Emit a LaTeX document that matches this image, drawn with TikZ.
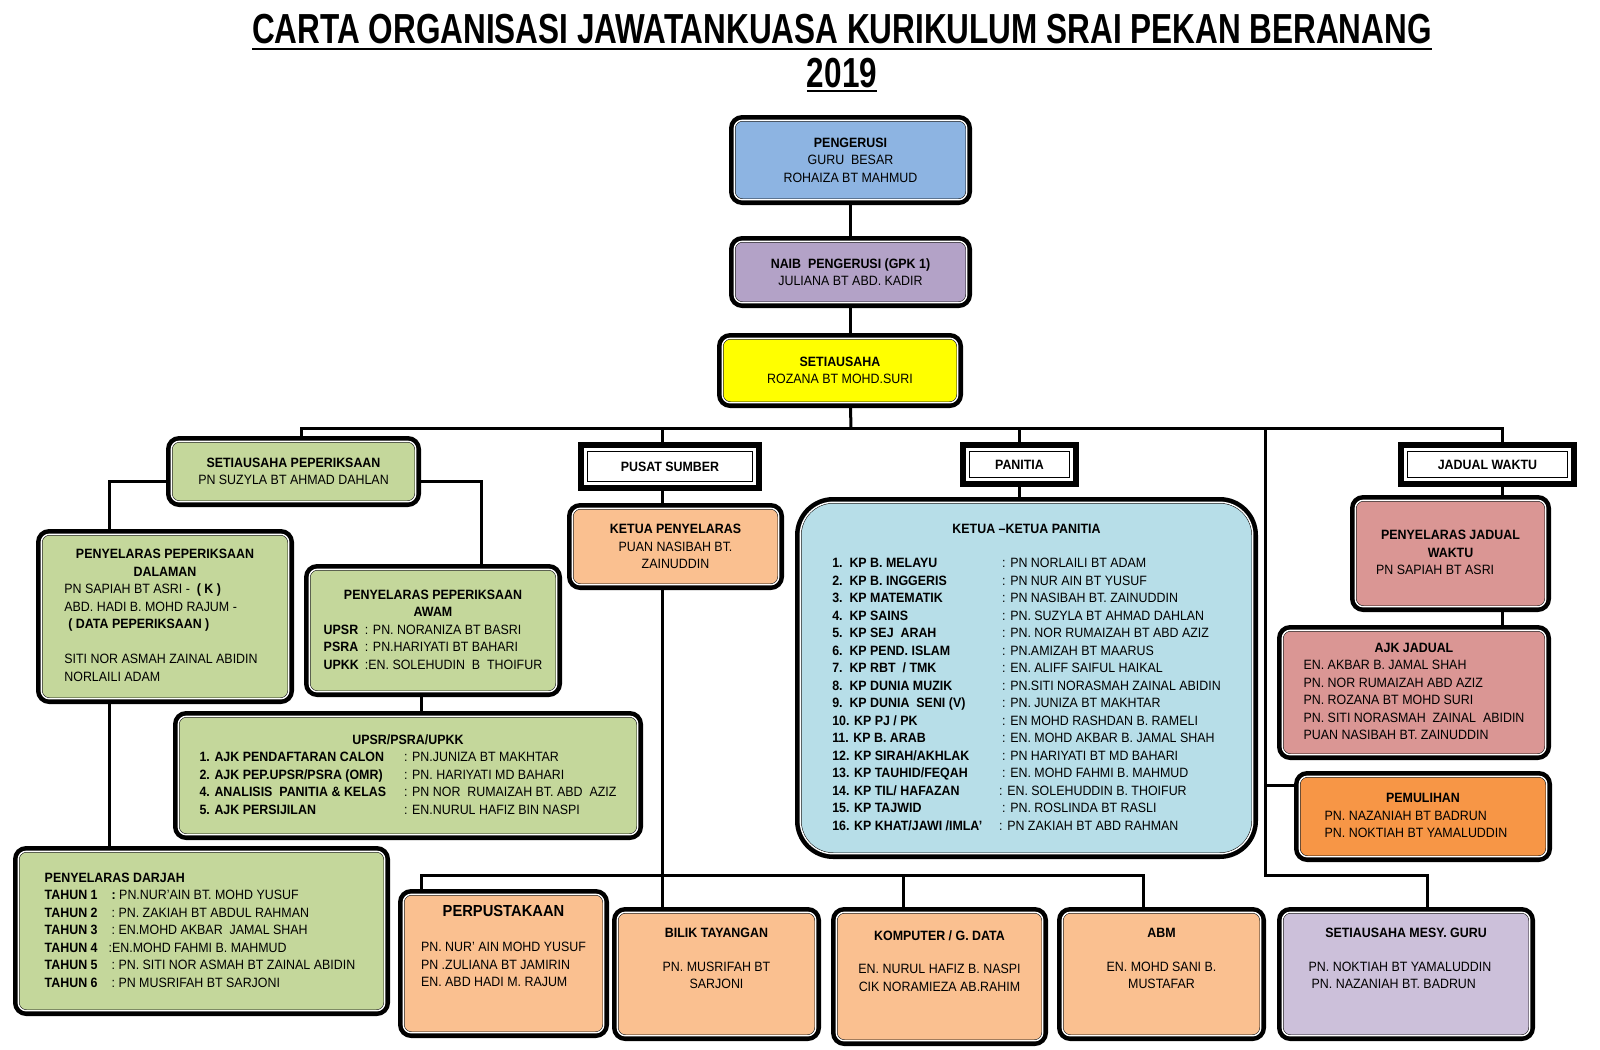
\documentclass[tikz,border=0pt]{standalone}
\usepackage{fontspec}
\setmainfont{Liberation Sans}[FakeStretch=0.92]
\newfontfamily\titlefont{Liberation Sans}[FakeStretch=0.75]
\usetikzlibrary{backgrounds,calc}
\definecolor{pengblue}{HTML}{8DB4E2}
\definecolor{naibpurple}{HTML}{B3A2C7}
\definecolor{setiayellow}{HTML}{FFFF00}
\definecolor{pepgreen}{HTML}{C4D79B}
\definecolor{sumberpeach}{HTML}{FAC090}
\definecolor{panitiablue}{HTML}{B7DEE8}
\definecolor{jadualrose}{HTML}{DA9694}
\definecolor{pemorange}{HTML}{F79646}
\definecolor{mesylilac}{HTML}{CCC0DA}
\newcommand{\boxfont}{\fontsize{13.5}{17.5}\selectfont}

\begin{document}
\begin{tikzpicture}[x=1pt, y=-1pt,
  card/.style={draw=black, line width=4.4pt, rounded corners=11pt, inner sep=0pt, align=center, font=\boxfont},
  head/.style={draw=black, line width=5.5pt, fill=white, inner sep=0pt, font=\boxfont\bfseries},
  rim/.style={line width=0.5pt, double=white, double distance=1.4pt},
  headrim/.style={line width=1.3pt, double=white, double distance=2.4pt},
  link/.style={line width=3pt}]
  \useasboundingbox (0,0) rectangle (1600,1049);

  % title
  \node[font=\titlefont\bfseries\fontsize{42}{46}\selectfont, inner sep=0pt, anchor=base] (title) at (842,44) {CARTA ORGANISASI JAWATANKUASA KURIKULUM SRAI PEKAN BERANANG};
  \node[font=\titlefont\bfseries\fontsize{42}{46}\selectfont, inner sep=0pt, anchor=base] (year) at (842,87) {2019};
  \draw[line width=2.5pt] ([yshift=-5pt]title.base west) -- ([yshift=-5pt]title.base east);
  \draw[line width=2.5pt] ([yshift=-4pt]year.base west) -- ([yshift=-4pt]year.base east);

  % top of the chart
  \node[card, fill=pengblue, minimum width=238.6pt, minimum height=85.6pt] (peng) at (850.5,160)
    {\textbf{PENGERUSI}\\GURU\ \ BESAR\\ROHAIZA BT MAHMUD};
  \node[card, fill=naibpurple, minimum width=238.6pt, minimum height=67.6pt] (naib) at (850.5,272)
    {\textbf{NAIB\ \ PENGERUSI (GPK 1)}\\JULIANA BT ABD. KADIR};
  \node[card, fill=setiayellow, minimum width=241.6pt, minimum height=70.6pt] (setia) at (840,370.5)
    {\textbf{SETIAUSAHA}\\ROZANA BT MOHD.SURI};

  % peperiksaan
  \node[card, fill=pepgreen, minimum width=250.6pt, minimum height=66.6pt] (sp) at (293.5,471.5)
    {\textbf{SETIAUSAHA PEPERIKSAAN}\\PN SUZYLA BT AHMAD DAHLAN};
  \node[card, fill=pepgreen, minimum width=253.6pt, minimum height=170.6pt] (ppd) at (165,616.5)
    {\begin{tabular}{@{}l@{}}
      \multicolumn{1}{@{}c@{}}{\textbf{PENYELARAS PEPERIKSAAN}}\\
      \multicolumn{1}{@{}c@{}}{\textbf{DALAMAN}}\\
      \hspace{-8pt}PN SAPIAH BT ASRI -\ \ \textbf{( K )}\\
      \hspace{-8pt}ABD. HADI B. MOHD RAJUM -\\
      \hspace{-4pt}\textbf{( DATA PEPERIKSAAN )}\\
      \\
      \hspace{-8pt}SITI NOR ASMAH ZAINAL ABIDIN\\
      \hspace{-8pt}NORLAILI ADAM
    \end{tabular}};
  \node[card, fill=pepgreen, minimum width=253.6pt, minimum height=128.6pt] (ppa) at (433,630.5)
    {\begin{tabular}{@{}l@{\hspace{6pt}}l@{}}
      \multicolumn{2}{@{}c@{}}{\textbf{PENYELARAS PEPERIKSAAN}}\\
      \multicolumn{2}{@{}c@{}}{\textbf{AWAM}}\\
      \textbf{UPSR} & : PN. NORANIZA BT BASRI\\
      \textbf{PSRA} & : PN.HARIYATI BT BAHARI\\
      \textbf{UPKK} & :EN. SOLEHUDIN\ \ B\ \ THOIFUR
    \end{tabular}};
  \node[card, fill=pepgreen, minimum width=465.6pt, minimum height=124.6pt] (upsr) at (408,775.5)
    {\begin{tabular}{@{}l@{\hspace{18pt}}l@{}}
      \multicolumn{2}{@{}c@{}}{\textbf{UPSR/PSRA/UPKK}}\\
      \textbf{1. AJK PENDAFTARAN CALON} & : PN.JUNIZA BT MAKHTAR\\
      \textbf{2. AJK PEP.UPSR/PSRA (OMR)} & : PN. HARIYATI MD BAHARI\\
      \textbf{4. ANALISIS\ \ PANITIA \& KELAS} & : PN NOR\ \ RUMAIZAH BT. ABD\ \ AZIZ\\
      \textbf{5. AJK PERSIJILAN} & : EN.NURUL HAFIZ BIN NASPI
    \end{tabular}};
  \node[card, fill=pepgreen, minimum width=372.6pt, minimum height=165.6pt] (pd) at (201.5,931)
    {\begin{tabular}{@{}l@{\hspace{14pt}}l@{}}
      \multicolumn{2}{@{}l@{}}{\hspace{-3pt}\textbf{PENYELARAS DARJAH}}\\
      \hspace{-3pt}\textbf{TAHUN 1} & \textbf{:}\ PN.NUR'AIN BT. MOHD YUSUF\\
      \hspace{-3pt}\textbf{TAHUN 2} & :\ PN. ZAKIAH BT ABDUL RAHMAN\\
      \hspace{-3pt}\textbf{TAHUN 3} & :\ EN.MOHD AKBAR\ \ JAMAL SHAH\\
      \hspace{-3pt}\textbf{TAHUN 4} & \hspace{-3pt}:EN.MOHD FAHMI B. MAHMUD\\
      \hspace{-3pt}\textbf{TAHUN 5} & :\ PN. SITI NOR ASMAH BT ZAINAL ABIDIN\\
      \hspace{-3pt}\textbf{TAHUN 6} & :\ PN MUSRIFAH BT SARJONI
    \end{tabular}};

  % pusat sumber
  \node[head, minimum width=178.5pt, minimum height=43.5pt] (ps) at (670,466.5) {PUSAT SUMBER};
  \node[card, fill=sumberpeach, minimum width=212.6pt, minimum height=82.6pt] (kp) at (675.5,546.5)
    {\textbf{KETUA PENYELARAS}\\PUAN NASIBAH BT.\\ZAINUDDIN};
  \node[card, fill=sumberpeach, minimum width=206.6pt, minimum height=144.6pt] (perp) at (503.5,963.5)
    {\begin{tabular}{@{}l@{}}
      \multicolumn{1}{@{}c@{}}{\fontsize{16}{19}\selectfont\textbf{PERPUSTAKAAN}}\\[18pt]
      PN. NUR' AIN MOHD YUSUF\\
      PN .ZULIANA BT JAMIRIN\\
      EN. ABD HADI M. RAJUM\\[31pt]
    \end{tabular}};
  \node[card, fill=sumberpeach, minimum width=204.6pt, minimum height=129.6pt] (bilik) at (716.5,974)
    {\begin{tabular}{@{}c@{}}
      \textbf{BILIK TAYANGAN}\\[16pt]
      PN. MUSRIFAH BT\\
      SARJONI\\[29pt]
    \end{tabular}};
  \node[card, fill=sumberpeach, minimum width=212.6pt, minimum height=134.6pt] (komp) at (939.5,976.5)
    {\begin{tabular}{@{}c@{}}
      \textbf{KOMPUTER / G. DATA}\\[16pt]
      EN. NURUL HAFIZ B. NASPI\\
      CIK NORAMIEZA AB.RAHIM\\[29pt]
    \end{tabular}};
  \node[card, fill=sumberpeach, minimum width=204.6pt, minimum height=129.6pt] (abm) at (1161.5,974)
    {\begin{tabular}{@{}c@{}}
      \textbf{ABM}\\[16pt]
      EN. MOHD SANI B.\\
      MUSTAFAR\\[29pt]
    \end{tabular}};

  % panitia
  \node[head, minimum width=113.5pt, minimum height=39.5pt] (pan) at (1019.5,464.5) {PANITIA};
  \node[card, fill=panitiablue, rounded corners=36pt, minimum width=458.6pt, minimum height=357.6pt] (kpan) at (1026.5,678)
    {\begin{tabular}{@{}l@{\hspace{20pt}}l@{}}
      \multicolumn{2}{@{}c@{}}{\textbf{KETUA --KETUA PANITIA}}\\[17pt]
      \textbf{1.\ \ KP B. MELAYU} & : PN NORLAILI BT ADAM\\
      \textbf{2.\ \ KP B. INGGERIS} & : PN NUR AIN BT YUSUF\\
      \textbf{3.\ \ KP MATEMATIK} & : PN NASIBAH BT. ZAINUDDIN\\
      \textbf{4.\ \ KP SAINS} & : PN. SUZYLA BT AHMAD DAHLAN\\
      \textbf{5.\ \ KP SEJ\ \ ARAH} & : PN. NOR RUMAIZAH BT ABD AZIZ\\
      \textbf{6.\ \ KP PEND. ISLAM} & : PN.AMIZAH BT MAARUS\\
      \textbf{7.\ \ KP RBT\ \ / TMK} & : EN. ALIFF SAIFUL HAIKAL\\
      \textbf{8.\ \ KP DUNIA MUZIK} & : PN.SITI NORASMAH ZAINAL ABIDIN\\
      \textbf{9.\ \ KP DUNIA\ \ SENI (V)} & : PN. JUNIZA BT MAKHTAR\\
      \textbf{10. KP PJ / PK} & : EN MOHD RASHDAN B. RAMELI\\
      \textbf{11. KP B. ARAB} & : EN. MOHD AKBAR B. JAMAL SHAH\\
      \textbf{12. KP SIRAH/AKHLAK} & : PN HARIYATI BT MD BAHARI\\
      \textbf{13. KP TAUHID/FEQAH} & : EN. MOHD FAHMI B. MAHMUD\\
      \textbf{14. KP TIL/ HAFAZAN} & \hspace{-3pt}: EN. SOLEHUDDIN B. THOIFUR\\
      \textbf{15. KP TAJWID} & : PN. ROSLINDA BT RASLI\\
      \textbf{16. KP KHAT/JAWI /IMLA'} & \hspace{-3pt}: PN ZAKIAH BT ABD RAHMAN
    \end{tabular}};

  % jadual waktu
  \node[head, minimum width=173.5pt, minimum height=39.5pt] (jw) at (1487.5,464.5) {JADUAL WAKTU};
  \node[card, fill=jadualrose, minimum width=196.6pt, minimum height=112.6pt] (pjw) at (1450.5,553.5)
    {\begin{tabular}{@{}l@{}}
      \multicolumn{1}{@{}c@{}}{\textbf{PENYELARAS JADUAL}}\\
      \multicolumn{1}{@{}c@{}}{\textbf{WAKTU}}\\
      \hspace{-5pt}PN SAPIAH BT ASRI
    \end{tabular}};
  \node[card, fill=jadualrose, minimum width=269.6pt, minimum height=130.6pt] (ajk) at (1414,692.5)
    {\begin{tabular}{@{}l@{}}
      \multicolumn{1}{@{}c@{}}{\textbf{AJK JADUAL}}\\
      EN. AKBAR B. JAMAL SHAH\\
      PN. NOR RUMAIZAH ABD AZIZ\\
      PN. ROZANA BT MOHD SURI\\
      PN. SITI NORASMAH\ \ ZAINAL\ \ ABIDIN\\
      PUAN NASIBAH BT. ZAINUDDIN
    \end{tabular}};
  \node[card, fill=pemorange, minimum width=253.6pt, minimum height=86.6pt] (pem) at (1423,816.5)
    {\begin{tabular}{@{}l@{}}
      \multicolumn{1}{@{}c@{}}{\textbf{PEMULIHAN}}\\
      \hspace{-14pt}PN. NAZANIAH BT BADRUN\\
      \hspace{-14pt}PN. NOKTIAH BT YAMALUDDIN
    \end{tabular}};
  \node[card, fill=mesylilac, minimum width=253.6pt, minimum height=129.6pt] (smg) at (1406,974)
    {\begin{tabular}{@{}l@{}}
      \multicolumn{1}{@{}c@{}}{\textbf{SETIAUSAHA MESY. GURU}}\\[16pt]
      \hspace{-12pt}PN. NOKTIAH BT YAMALUDDIN\\
      \hspace{-9pt}PN. NAZANIAH BT. BADRUN\\[29pt]
    \end{tabular}};

  % inner frames
  \foreach \n in {peng,naib,setia,sp,ppd,ppa,upsr,pd,kp,perp,bilik,komp,abm,pjw,ajk,pem,smg}
    \draw[rim, rounded corners=8pt] ([shift={(5.3,5.3)}]\n.north west) rectangle ([shift={(-5.3,-5.3)}]\n.south east);
  \draw[rim, rounded corners=33pt] ([shift={(5.3,5.3)}]kpan.north west) rectangle ([shift={(-5.3,-5.3)}]kpan.south east);
  \foreach \n in {ps,pan,jw}
    \draw[headrim] ([shift={(7.5,7.5)}]\n.north west) rectangle ([shift={(-7.5,-7.5)}]\n.south east);

  % connectors
  \coordinate (bus) at (851,428);
  \coordinate (tee) at (1265,428);
  \coordinate (elbow) at (1265,875);
  \coordinate (bbus) at (662,875);
  \coordinate (sp-drop) at ([xshift=8pt]sp.north);
  \coordinate (jw-drop) at ([xshift=15pt]jw.north);
  \coordinate (ps-drop) at ([xshift=-8pt]ps.north);
  \coordinate (ppd-drop) at ([xshift=-56pt]ppd.north);
  \coordinate (ppa-drop) at ([xshift=48pt]ppa.north);
  \coordinate (upsr-drop) at ([xshift=-12pt]ppa.south);
  \coordinate (perp-drop) at ([xshift=-82pt]perp.north);
  \coordinate (komp-drop) at ([xshift=-36pt]komp.north);
  \coordinate (abm-drop) at ([xshift=-18pt]abm.north);
  \coordinate (smg-drop) at ([xshift=21pt]smg.north);
  \coordinate (pem-tap) at ([yshift=-14pt]pem.north west);

  \begin{scope}[on background layer]
    \fill[white] (0,0) rectangle (1600,1049);
    \draw[link] (peng.south) -- (naib.north);
    \draw[link] (naib.south) -- (naib.south |- setia.north);
    \draw[link] (naib.south |- setia.south) -- (bus);
    \draw[link] (sp-drop) |- (bus) -| (jw-drop);
    \draw[link] (ps-drop) -- (ps-drop |- bus);
    \draw[link] (pan.north) -- (pan.north |- bus);
    \draw[link] (tee) -- (elbow) -| (smg-drop);
    \draw[link] (pem-tap -| tee) -- (pem-tap);
    \draw[link] (jw.south -| jw-drop) -- (jw-drop |- ajk.north);
    \draw[link] ([yshift=-10pt]sp.west) -| (ppd-drop);
    \draw[link] ([yshift=-10pt]sp.east) -| (ppa-drop);
    \draw[link] (upsr-drop) -- (upsr-drop |- upsr.north);
    \draw[link] (ppd-drop |- ppd.south) -- (ppd-drop |- pd.north);
    \draw[link] (ps.south -| ps-drop) -- (ps-drop |- kp.north);
    \draw[link] (kp.south -| bbus) -- (bbus |- bilik.north);
    \draw[link] (perp-drop) |- (bbus) -| (abm-drop);
    \draw[link] (komp-drop) -- (komp-drop |- bbus);
    \draw[link] (pan.south) -- (pan.south |- kpan.north);
  \end{scope}
\end{tikzpicture}
\end{document}
